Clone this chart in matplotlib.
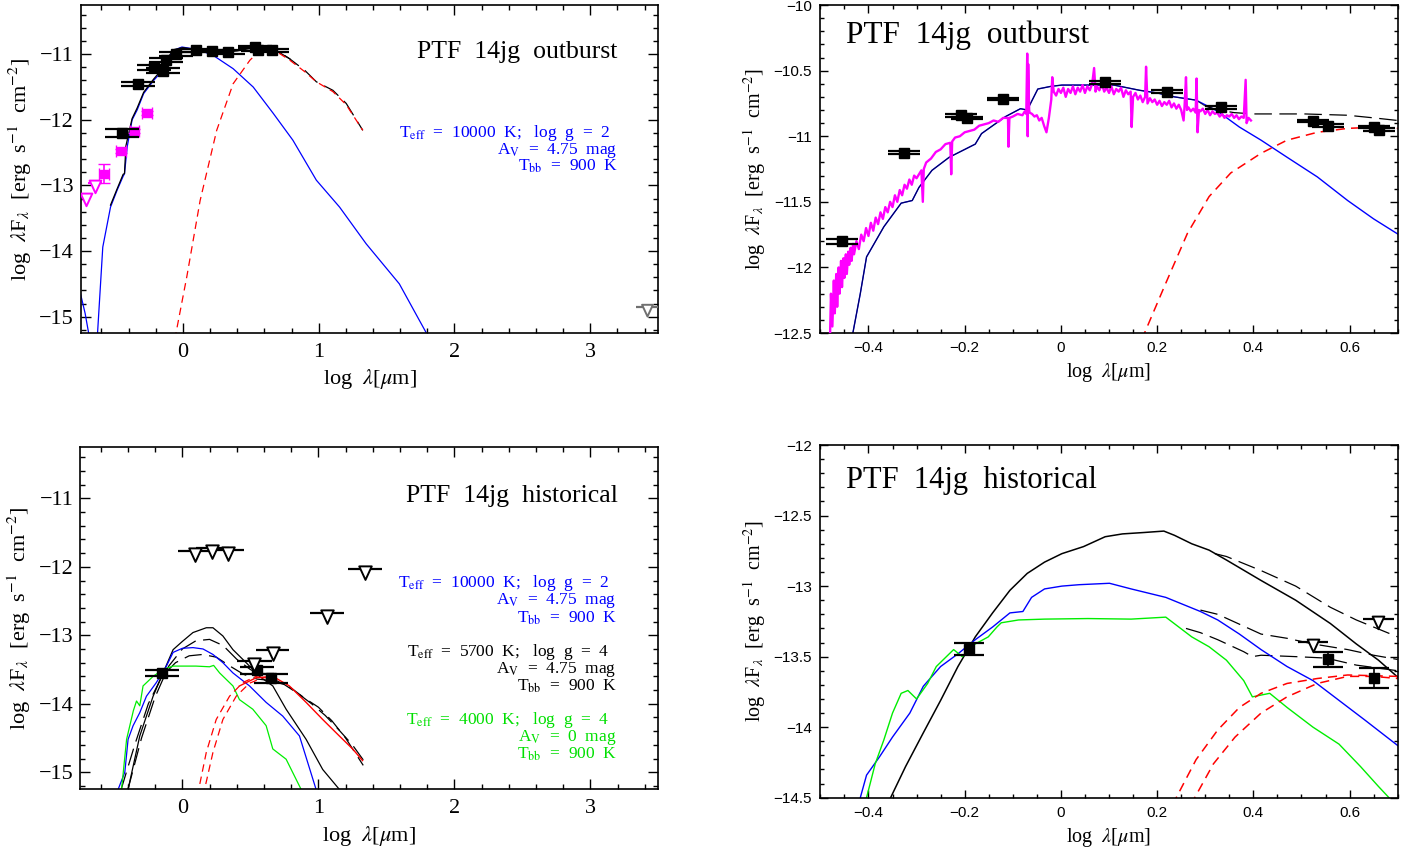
import numpy as np
import matplotlib
matplotlib.use("Agg")
import matplotlib.pyplot as plt
from matplotlib.path import Path
from matplotlib.ticker import MultipleLocator, FuncFormatter

plt.rcParams['font.family'] = ['Liberation Serif', 'DejaVu Serif']
plt.rcParams['mathtext.fontset'] = 'stix'

# ── top-left: outburst, wide range ───────────────────────────────────────────
tl_x = [-0.45, -0.33, -0.21, -0.15, -0.125, -0.05, 0.095, 0.217, 0.33, 0.53, 0.555, 0.657]
tl_y = [-12.2, -11.46, -11.2, -11.25, -11.09, -11.0, -10.94, -10.95, -10.97, -10.89, -10.93, -10.94]
tl_yerr = [0.06, 0.03, 0.04, 0.04, 0.03, 0.03, 0.02, 0.02, 0.03, 0.02, 0.02, 0.02]
tl_mag_x = [-0.264, -0.357, -0.455, -0.58]
tl_mag_y = [-11.9, -12.17, -12.48, -12.83]
tl_mag_lo = [0.03, 0.03, 0.03, 0.13]
tl_mag_hi = [0.03, 0.03, 0.03, 0.16]
tl_maglim_x = [-0.647, -0.71]
tl_maglim_y = [-12.96, -13.16]
tl_maglim_w = [0.05, 0.04]
tl_greylim_x = [3.42]
tl_greylim_y = [-14.86]
tl_greylim_w = [0.08]

tl_blue_x = [-0.76, -0.72, -0.69, -0.66, -0.63, -0.59, -0.533, -0.484, -0.44, -0.43, -0.41,
             -0.374, -0.337, -0.289, -0.216, -0.167, -0.117, -0.069, -0.007, 0.054, 0.127,
             0.225, 0.37, 0.518, 0.665, 0.81, 0.983, 1.154, 1.35, 1.594, 1.74, 1.82]
tl_blue_y = [-14.6, -14.95, -15.3, -15.6, -15.3, -13.94, -13.33, -13.07, -12.86, -12.82, -12.41,
             -12.0, -11.85, -11.6, -11.4, -11.29, -11.09, -10.94, -10.89, -10.91, -10.94,
             -11.02, -11.22, -11.5, -11.9, -12.31, -12.92, -13.33, -13.89, -14.5, -15.05, -15.35]
tl_tot_x = [-0.533, -0.484, -0.44, -0.43, -0.42, -0.374, -0.337, -0.289, -0.216, -0.167, -0.117,
            -0.069, 0.0, 0.1, 0.2, 0.3, 0.4, 0.5, 0.6, 0.7, 0.787]
tl_tot_y = [-13.3, -13.05, -12.83, -12.82, -12.4, -11.98, -11.82, -11.58, -11.38, -11.26, -11.07,
            -10.93, -10.9, -10.93, -10.95, -10.97, -10.95, -10.91, -10.92, -10.96, -11.07]
tl_totd_x = [0.75, 0.787, 0.9, 0.983, 1.105, 1.203, 1.325]
tl_totd_y = [-11.02, -11.07, -11.25, -11.42, -11.55, -11.75, -12.16]
tl_red_x = [-0.06, 0.029, 0.127, 0.249, 0.37, 0.494, 0.555, 0.616, 0.69, 0.787, 0.9, 0.983,
            1.105, 1.203, 1.325]
tl_red_y = [-15.35, -14.39, -13.23, -12.16, -11.45, -11.09, -10.97, -10.94, -10.96, -11.09,
            -11.27, -11.42, -11.57, -11.77, -12.16]

# ── top-right: outburst, zoomed, with spectrum ───────────────────────────────
tr_x = [-0.455, -0.327, -0.208, -0.195, -0.12, 0.092, 0.221, 0.333, 0.524, 0.556, 0.65, 0.661]
tr_y = [-11.8, -11.125, -10.84, -10.86, -10.715, -10.59, -10.66, -10.78, -10.885, -10.92, -10.93, -10.95]
tr_yerr = [0.02, 0.01, 0.01, 0.01, 0.01, 0.01, 0.01, 0.01, 0.01, 0.01, 0.01, 0.01]

spec_x = [-0.48, -0.478, -0.475, -0.472, -0.47, -0.467, -0.465, -0.462, -0.46, -0.457, -0.455,
          -0.452, -0.45, -0.447, -0.445, -0.442, -0.44, -0.437, -0.435, -0.432, -0.43, -0.425,
          -0.42, -0.415, -0.41, -0.405, -0.40, -0.395, -0.39, -0.385, -0.38, -0.375, -0.37,
          -0.365, -0.36, -0.355, -0.35, -0.345, -0.34, -0.335, -0.33, -0.325, -0.32, -0.315,
          -0.31, -0.305, -0.30, -0.29, -0.287, -0.285, -0.28, -0.27, -0.26, -0.25, -0.24,
          -0.23, -0.228, -0.226, -0.22, -0.21, -0.20, -0.19, -0.18, -0.17, -0.16, -0.15,
          -0.14, -0.13, -0.12, -0.11, -0.109, -0.107, -0.10, -0.09, -0.08, -0.075, -0.072,
          -0.07, -0.069, -0.068, -0.066, -0.065, -0.06, -0.055, -0.05, -0.045, -0.04, -0.035,
          -0.03, -0.025, -0.02, -0.018, -0.015, -0.01, -0.005, 0.0, 0.005, 0.01, 0.015, 0.02,
          0.025, 0.03, 0.035, 0.04, 0.045, 0.05, 0.055, 0.06, 0.065, 0.069, 0.072, 0.075,
          0.08, 0.085, 0.09, 0.095, 0.10, 0.105, 0.11, 0.115, 0.12, 0.125, 0.13, 0.135,
          0.14, 0.145, 0.147, 0.15, 0.155, 0.16, 0.165, 0.17, 0.175, 0.177, 0.18, 0.185,
          0.19, 0.195, 0.20, 0.205, 0.21, 0.215, 0.22, 0.225, 0.23, 0.235, 0.24, 0.245,
          0.25, 0.255, 0.257, 0.26, 0.262, 0.265, 0.27, 0.275, 0.28, 0.282, 0.284, 0.287,
          0.29, 0.295, 0.30, 0.305, 0.31, 0.315, 0.32, 0.325, 0.33, 0.335, 0.34, 0.345,
          0.35, 0.355, 0.36, 0.365, 0.37, 0.375, 0.38, 0.384, 0.386, 0.39, 0.395]
spec_y = [-12.55, -12.2, -12.45, -12.1, -12.35, -12.05, -12.3, -12.0, -12.2, -11.95, -12.15,
          -11.93, -12.08, -11.9, -12.05, -11.88, -11.98, -11.85, -11.95, -11.82, -11.9, -11.8,
          -11.86, -11.75, -11.8, -11.7, -11.76, -11.66, -11.72, -11.62, -11.67, -11.58, -11.63,
          -11.54, -11.58, -11.5, -11.54, -11.45, -11.5, -11.41, -11.45, -11.37, -11.4, -11.33,
          -11.37, -11.3, -11.32, -11.26, -11.5, -11.25, -11.2, -11.17, -11.12, -11.1, -11.06,
          -11.05, -11.29, -11.04, -11.01, -11.0, -10.97, -10.96, -10.95, -10.92, -10.91, -10.9,
          -10.88, -10.89, -10.86, -10.86, -11.08, -10.86, -10.85, -10.83, -10.84, -10.81, -10.83,
          -10.37, -11.0, -10.45, -10.8, -10.82, -10.83, -10.85, -10.84, -10.88, -10.86, -10.92,
          -10.97, -10.86, -10.72, -10.55, -10.66, -10.69, -10.64, -10.67, -10.63, -10.7, -10.64,
          -10.67, -10.62, -10.68, -10.63, -10.66, -10.61, -10.67, -10.62, -10.65, -10.6, -10.48,
          -10.66, -10.62, -10.65, -10.6, -10.66, -10.63, -10.67, -10.62, -10.68, -10.64, -10.66,
          -10.63, -10.7, -10.65, -10.68, -10.66, -10.93, -10.7, -10.67, -10.72, -10.69, -10.74,
          -10.7, -10.47, -10.75, -10.71, -10.74, -10.72, -10.76, -10.73, -10.77, -10.74, -10.76,
          -10.73, -10.78, -10.75, -10.79, -10.76, -10.8, -10.88, -10.77, -10.55, -10.8, -10.78,
          -10.81, -10.79, -10.82, -10.56, -10.97, -10.8, -10.81, -10.79, -10.83, -10.8, -10.84,
          -10.81, -10.83, -10.82, -10.85, -10.83, -10.86, -10.84, -10.85, -10.83, -10.86, -10.84,
          -10.87, -10.85, -10.86, -10.57, -10.9, -10.86, -10.88]

tr_blue_x = [-0.435, -0.417, -0.404, -0.368, -0.332, -0.309, -0.295, -0.268, -0.232, -0.205,
             -0.178, -0.165, -0.142, -0.115, -0.084, -0.07, -0.048, -0.021, 0.002, 0.056,
             0.11, 0.164, 0.2, 0.236, 0.281, 0.326, 0.371, 0.416, 0.47, 0.533, 0.596, 0.65, 0.7]
tr_blue_y = [-12.55, -12.2, -11.92, -11.69, -11.51, -11.49, -11.39, -11.26, -11.16, -11.11,
             -11.06, -10.98, -10.92, -10.85, -10.79, -10.8, -10.64, -10.62, -10.61, -10.61,
             -10.61, -10.65, -10.67, -10.7, -10.725, -10.81, -10.93, -11.03, -11.16, -11.31,
             -11.49, -11.63, -11.745]
tr_tot_x = [-0.435, -0.417, -0.404, -0.368, -0.332, -0.309, -0.295, -0.268, -0.232, -0.205,
            -0.178, -0.165, -0.142, -0.115, -0.084, -0.07, -0.048, -0.021, 0.002, 0.056,
            0.11, 0.164, 0.2, 0.236, 0.281, 0.3]
tr_tot_y = [-12.55, -12.2, -11.92, -11.69, -11.51, -11.49, -11.39, -11.26, -11.16, -11.11,
            -11.06, -10.98, -10.92, -10.85, -10.79, -10.8, -10.64, -10.62, -10.61, -10.61,
            -10.61, -10.65, -10.67, -10.7, -10.725, -10.77]
tr_totd_x = [0.3, 0.326, 0.36, 0.4, 0.45, 0.506, 0.55, 0.596, 0.65, 0.7]
tr_totd_y = [-10.77, -10.8, -10.82, -10.83, -10.83, -10.83, -10.835, -10.84, -10.86, -10.88]
tr_red_x = [0.168, 0.218, 0.263, 0.308, 0.353, 0.416, 0.47, 0.533, 0.596, 0.66, 0.7]
tr_red_y = [-12.55, -12.12, -11.74, -11.46, -11.28, -11.13, -11.03, -10.97, -10.94, -10.93, -10.94]

# ── bottom-left: historical, wide range ──────────────────────────────────────
bl_x = [-0.149, 0.548, 0.653]
bl_y = [-13.55, -13.51, -13.63]
bl_yerr = [0.05, 0.05, 0.07]
bl_lim_x = [0.09, 0.22, 0.335, 1.064, 1.345, 0.665, 0.53]
bl_lim_y = [-11.77, -11.72, -11.75, -12.67, -12.03, -13.22, -13.38]
bl_lim_w = [0.12, 0.12, 0.12, 0.125, 0.125, 0.12, 0.13]

bl_blue_x = [-0.472, -0.423, -0.399, -0.362, -0.313, -0.264, -0.191, -0.117, -0.068, 0.0,
             0.078, 0.152, 0.225, 0.298, 0.372, 0.494, 0.616, 0.738, 0.861, 0.983]
bl_blue_y = [-15.25, -15.0, -14.52, -14.32, -14.13, -13.89, -13.69, -13.45, -13.25, -13.19,
             -13.18, -13.2, -13.28, -13.4, -13.55, -13.74, -13.98, -14.18, -14.47, -15.25]
bl_green_x = [-0.447, -0.41, -0.36, -0.337, -0.313, -0.289, -0.215, -0.142, -0.068, 0.0,
              0.1, 0.2, 0.23, 0.274, 0.372, 0.42, 0.518, 0.616, 0.665, 0.763, 0.873]
bl_green_y = [-15.25, -14.52, -14.1, -13.96, -14.03, -13.74, -13.6, -13.5, -13.45, -13.45,
              -13.45, -13.46, -13.44, -13.55, -13.74, -13.94, -14.08, -14.32, -14.66, -14.81, -15.25]
bl_black_x = [-0.399, -0.313, -0.215, -0.142, -0.068, 0.0, 0.078, 0.176, 0.225, 0.298,
              0.372, 0.469, 0.567, 0.665, 0.763, 0.91, 1.032, 1.154]
bl_black_y = [-15.25, -14.47, -13.89, -13.55, -13.21, -13.09, -12.96, -12.89, -12.89, -13.01,
              -13.21, -13.4, -13.6, -13.74, -14.08, -14.52, -14.96, -15.25]
bl_da_x = [-0.4, -0.3, -0.2, -0.1, 0.0, 0.1, 0.2, 0.3, 0.4, 0.5, 0.6, 0.7, 0.8, 0.9, 1.0,
           1.1, 1.2, 1.33]
bl_da_y = [-15.25, -14.5, -13.9, -13.45, -13.2, -13.08, -13.06, -13.15, -13.35, -13.5, -13.6,
           -13.67, -13.77, -13.92, -14.05, -14.25, -14.5, -14.9]
bl_db_x = [-0.45, -0.35, -0.25, -0.15, -0.05, 0.05, 0.15, 0.25, 0.35, 0.45, 0.55, 0.65, 0.75,
           0.85, 0.95, 1.05, 1.15, 1.25, 1.33]
bl_db_y = [-15.25, -14.6, -14.0, -13.6, -13.4, -13.3, -13.28, -13.32, -13.45, -13.57, -13.64,
           -13.66, -13.72, -13.85, -14.0, -14.17, -14.38, -14.6, -14.82]
bl_red1_x = [0.11, 0.176, 0.249, 0.347, 0.445, 0.543, 0.616]
bl_red1_y = [-15.35, -14.71, -14.23, -13.89, -13.69, -13.6, -13.57]
bl_red2_x = [0.152, 0.225, 0.298, 0.396, 0.494, 0.592, 0.665]
bl_red2_y = [-15.35, -14.71, -14.23, -13.89, -13.7, -13.62, -13.62]
bl_reds_x = [0.42, 0.543, 0.665, 0.787, 0.91, 1.032, 1.154, 1.252, 1.325]
bl_reds_y = [-13.74, -13.62, -13.6, -13.74, -13.98, -14.23, -14.47, -14.66, -14.83]

# ── bottom-right: historical, zoomed ─────────────────────────────────────────
br_x = [-0.192, 0.556, 0.65]
br_y = [-13.447, -13.52, -13.65]
br_yerr = [0.043, 0.05, 0.07]
br_lim_x = [0.524, 0.66]
br_lim_y = [-13.395, -13.23]
br_lim_w = [0.032, 0.032]

br_black_x = [-0.354, -0.323, -0.286, -0.25, -0.214, -0.178, -0.142, -0.106, -0.07, -0.034,
              0.002, 0.047, 0.092, 0.128, 0.173, 0.214, 0.236, 0.272, 0.308, 0.344, 0.416,
              0.488, 0.56, 0.614, 0.66, 0.7]
br_black_y = [-14.5, -14.28, -14.04, -13.81, -13.57, -13.36, -13.19, -13.03, -12.91, -12.83,
              -12.77, -12.72, -12.65, -12.63, -12.62, -12.61, -12.64, -12.7, -12.745, -12.815,
              -12.96, -13.1, -13.265, -13.41, -13.525, -13.645]
br_blackd_x = [0.32, 0.344, 0.416, 0.488, 0.56, 0.614, 0.7]
br_blackd_y = [-12.77, -12.79, -12.89, -13.0, -13.15, -13.24, -13.36]
br_blue_x = [-0.417, -0.404, -0.377, -0.35, -0.314, -0.286, -0.25, -0.214, -0.178, -0.142,
             -0.106, -0.079, -0.061, -0.034, 0.002, 0.038, 0.101, 0.146, 0.182, 0.218, 0.254,
             0.29, 0.326, 0.371, 0.416, 0.47, 0.524, 0.578, 0.632, 0.7]
br_blue_y = [-14.5, -14.34, -14.21, -14.07, -13.9, -13.71, -13.57, -13.48, -13.38, -13.29,
             -13.19, -13.18, -13.08, -13.02, -13.0, -12.99, -12.98, -13.02, -13.05, -13.08,
             -13.13, -13.18, -13.24, -13.34, -13.45, -13.57, -13.67, -13.81, -13.95, -14.13]
br_blued_x = [0.29, 0.326, 0.371, 0.416, 0.47, 0.524, 0.596, 0.65, 0.7]
br_blued_y = [-13.17, -13.2, -13.27, -13.34, -13.37, -13.41, -13.45, -13.49, -13.52]
br_green_x = [-0.404, -0.386, -0.368, -0.35, -0.332, -0.318, -0.3, -0.277, -0.259, -0.223,
              -0.205, -0.178, -0.151, -0.133, -0.124, -0.088, -0.034, 0.056, 0.146, 0.218,
              0.245, 0.272, 0.308, 0.344, 0.38, 0.398, 0.434, 0.47, 0.524, 0.578, 0.623,
              0.66, 0.682]
br_green_y = [-14.5, -14.26, -14.09, -13.9, -13.76, -13.74, -13.8, -13.69, -13.57, -13.45,
              -13.5, -13.41, -13.36, -13.29, -13.26, -13.24, -13.234, -13.23, -13.234, -13.22,
              -13.29, -13.36, -13.43, -13.525, -13.67, -13.785, -13.76, -13.86, -14.0, -14.12,
              -14.28, -14.42, -14.5]
br_greend_x = [0.26, 0.29, 0.326, 0.38, 0.398, 0.416, 0.488, 0.551, 0.614, 0.7]
br_greend_y = [-13.3, -13.33, -13.38, -13.465, -13.5, -13.49, -13.5, -13.51, -13.56, -13.6]
br_red1_x = [0.232, 0.281, 0.326, 0.371, 0.416, 0.47, 0.533, 0.596, 0.7]
br_red1_y = [-14.55, -14.23, -14.02, -13.86, -13.76, -13.69, -13.655, -13.63, -13.64]
br_red2_x = [0.27, 0.317, 0.362, 0.416, 0.47, 0.533, 0.596, 0.65, 0.7]
br_red2_y = [-14.55, -14.26, -14.07, -13.9, -13.785, -13.69, -13.64, -13.64, -13.655]

BLUE, GREEN, RED, MAG = '#0000ff', '#00ee00', '#ff0000', '#ff00ff'
LONG = (0, (14, 6))
RDASH = (0, (6, 4))

# upper-limit triangle hanging below the bar
tri = Path([(-0.6, 0.3), (0.6, 0.3), (0.0, -1.0), (-0.6, 0.3)],
           [Path.MOVETO, Path.LINETO, Path.LINETO, Path.CLOSEPOLY])


def gfmt(v, pos):
    return ('%g' % round(v, 3)).replace('-', '\u2212')


def style_axes(ax, wide):
    for s in ax.spines.values():
        s.set_linewidth(1.2)
    ax.tick_params(which='both', direction='in', top=True, right=True, width=1)
    if wide:
        ax.set_xlim(-0.75, 3.5)
        ax.set_ylim(-15.25, -10.25)
        ax.xaxis.set_major_locator(MultipleLocator(1))
        ax.xaxis.set_minor_locator(MultipleLocator(0.2))
        ax.yaxis.set_major_locator(MultipleLocator(1))
        ax.yaxis.set_minor_locator(MultipleLocator(0.2))
        ax.tick_params(which='major', length=7.5, labelsize=16, pad=7)
        ax.tick_params(which='minor', length=3.8)
        ax.tick_params(axis='y', pad=5)
        fs = 16
    else:
        ax.set_xlim(-0.5, 0.7)
        ax.xaxis.set_major_locator(MultipleLocator(0.2))
        ax.xaxis.set_minor_locator(MultipleLocator(0.05))
        ax.yaxis.set_major_locator(MultipleLocator(0.5))
        ax.yaxis.set_minor_locator(MultipleLocator(0.1))
        ax.tick_params(which='major', length=5.5, labelsize=11, pad=6)
        ax.tick_params(which='minor', length=2.8)
        for lab in ax.get_xticklabels() + ax.get_yticklabels():
            lab.set_family(['Liberation Sans', 'DejaVu Sans'])
        fs = 14.5
    ax.xaxis.set_major_formatter(FuncFormatter(gfmt))
    ax.yaxis.set_major_formatter(FuncFormatter(gfmt))
    ax.set_xlabel(r'log  $\lambda$[$\mu$m]', fontsize=fs, labelpad=4)
    ax.set_ylabel(r'log  $\lambda$F$_\lambda$  [erg  s$^{-1}$  cm$^{-2}$]', fontsize=fs, labelpad=4)


def squares(ax, x, y, yerr, cap, ms):
    ax.errorbar(x, y, yerr=yerr, fmt='s', color='k', ms=ms, capsize=cap, capthick=1.6,
                elinewidth=1.2, zorder=6)


def limits(ax, x, y, w, color='k', ms=15):
    ax.errorbar(x, y, xerr=w, fmt='none', ecolor=color, elinewidth=1.6, zorder=6)
    ax.plot(x, y, ls='none', marker=tri, ms=ms, mfc='white', mec=color, mew=1.4, zorder=7)


def block(ax, x0, y0, teff, logg, av, color, dy=0.051):
    kw = dict(transform=ax.transAxes, ha='right', va='center', color=color, fontsize=12.5)
    ax.text(x0 - 0.013, y0, r'T$_{\rm eff}$  =  ' + teff + '  K;   log  g  =  ' + logg, **kw)
    ax.text(x0, y0 - dy, r'A$_{\rm V}$  =  ' + av + '  mag', **kw)
    ax.text(x0, y0 - 2 * dy, r'T$_{\rm bb}$  =  900  K', **kw)


fig = plt.figure(figsize=(14.22, 8.55), dpi=100)
ax_tl = fig.add_axes([0.0570, 0.6105, 0.4058, 0.3836])
ax_tr = fig.add_axes([0.5769, 0.6105, 0.4060, 0.3836])
ax_bl = fig.add_axes([0.0565, 0.0768, 0.4065, 0.4004])
ax_br = fig.add_axes([0.5769, 0.0670, 0.4060, 0.4125])

# ── top-left ──────────────────────────────────────────────────────────────────
ax = ax_tl
ax.plot(tl_blue_x, tl_blue_y, color=BLUE, lw=0.9)
ax.plot(tl_tot_x, tl_tot_y, color='k', lw=0.9)
ax.plot(tl_totd_x, tl_totd_y, color='k', lw=0.9, ls=LONG)
ax.plot(tl_red_x, tl_red_y, color=RED, lw=0.9, ls=RDASH)
ax.errorbar(tl_mag_x, tl_mag_y, yerr=[tl_mag_lo, tl_mag_hi], xerr=0.035, fmt='s', color=MAG,
            ms=5.5, capsize=4, elinewidth=1.2, zorder=5)
limits(ax, tl_maglim_x, tl_maglim_y, tl_maglim_w, color=MAG, ms=14)
limits(ax, tl_greylim_x, tl_greylim_y, tl_greylim_w, color='#707070', ms=13)
squares(ax, tl_x, tl_y, tl_yerr, cap=12, ms=7)
ax.text(0.93, 0.857, 'PTF  14jg  outburst', transform=ax.transAxes, ha='right', va='center',
        fontsize=18.5)
block(ax, 0.93, 0.609, '10000', '2', '4.75', BLUE)
style_axes(ax, True)

# ── top-right ─────────────────────────────────────────────────────────────────
ax = ax_tr
ax.set_ylim(-12.5, -10)
ax.plot(tr_blue_x, tr_blue_y, color=BLUE, lw=1.0)
ax.plot(tr_tot_x, tr_tot_y, color='#000030', lw=0.8, alpha=0.8)
ax.plot(tr_totd_x, tr_totd_y, color='k', lw=0.9, ls=LONG)
ax.plot(tr_red_x, tr_red_y, color=RED, lw=1.1, ls=RDASH)
ax.plot(spec_x, spec_y, color=MAG, lw=1.7, zorder=4)
squares(ax, tr_x, tr_y, tr_yerr, cap=11.5, ms=7)
ax.text(0.045, 0.908, 'PTF  14jg  outburst', transform=ax.transAxes, ha='left', va='center',
        fontsize=22.5)
style_axes(ax, False)

# ── bottom-left ───────────────────────────────────────────────────────────────
ax = ax_bl
ax.plot(bl_da_x, bl_da_y, color='k', lw=0.9, ls=LONG)
ax.plot(bl_db_x, bl_db_y, color='k', lw=0.9, ls=LONG)
ax.plot(bl_black_x, bl_black_y, color='k', lw=0.9)
ax.plot(bl_blue_x, bl_blue_y, color=BLUE, lw=0.9)
ax.plot(bl_green_x, bl_green_y, color=GREEN, lw=0.9)
ax.plot(bl_red1_x, bl_red1_y, color=RED, lw=0.9, ls=RDASH)
ax.plot(bl_red2_x, bl_red2_y, color=RED, lw=0.9, ls=RDASH)
ax.plot(bl_reds_x, bl_reds_y, color=RED, lw=1.0)
limits(ax, bl_lim_x, bl_lim_y, bl_lim_w)
squares(ax, bl_x, bl_y, bl_yerr, cap=12, ms=7)
ax.text(0.93, 0.857, 'PTF  14jg  historical', transform=ax.transAxes, ha='right', va='center',
        fontsize=18.5)
block(ax, 0.928, 0.602, '10000', '2', '4.75', BLUE, dy=0.0505)
block(ax, 0.928, 0.402, '5700', '4', '4.75', 'k', dy=0.0505)
block(ax, 0.928, 0.2025, '4000', '4', '0', '#00e000', dy=0.0505)
style_axes(ax, True)

# ── bottom-right ──────────────────────────────────────────────────────────────
ax = ax_br
ax.set_ylim(-14.5, -12)
ax.plot(br_blackd_x, br_blackd_y, color='k', lw=0.9, ls=LONG)
ax.plot(br_blued_x, br_blued_y, color='k', lw=0.9, ls=LONG)
ax.plot(br_greend_x, br_greend_y, color='k', lw=0.9, ls=LONG)
ax.plot(br_black_x, br_black_y, color='k', lw=1.1)
ax.plot(br_blue_x, br_blue_y, color=BLUE, lw=1.0)
ax.plot(br_green_x, br_green_y, color=GREEN, lw=1.0)
ax.plot(br_red1_x, br_red1_y, color=RED, lw=1.1, ls=RDASH)
ax.plot(br_red2_x, br_red2_y, color=RED, lw=1.1, ls=RDASH)
limits(ax, br_lim_x, br_lim_y, br_lim_w, ms=14)
squares(ax, br_x, br_y, br_yerr, cap=11, ms=6.5)
ax.text(0.045, 0.90, 'PTF  14jg  historical', transform=ax.transAxes, ha='left', va='center',
        fontsize=22)
style_axes(ax, False)

fig.savefig('out.png', dpi=100)
